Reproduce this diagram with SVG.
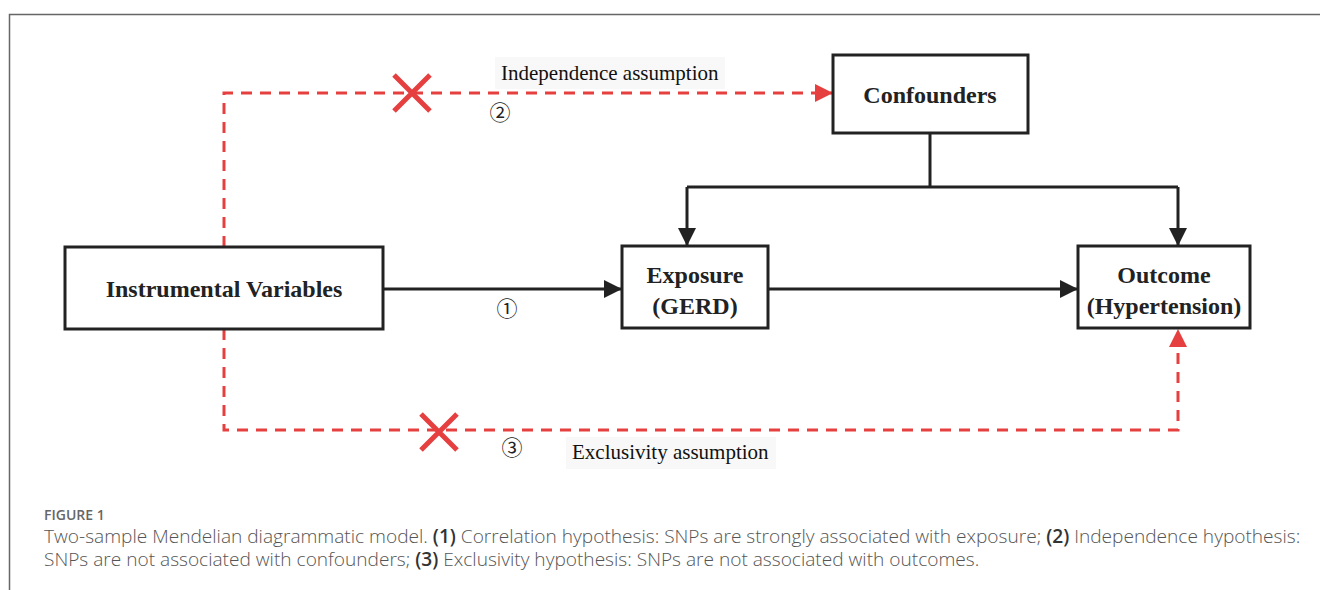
<svg xmlns="http://www.w3.org/2000/svg" width="1320" height="590" viewBox="0 0 1320 590">
<style>
.box{fill:#fff;stroke:#222;stroke-width:3}
.lbl{font-family:"Liberation Serif","Times New Roman",serif;font-weight:bold;font-size:24px;fill:#222;text-anchor:middle}
.ann{font-family:"Liberation Serif","Times New Roman",serif;font-size:21px;fill:#111}
.num{font-family:"Noto Sans CJK SC","DejaVu Sans",sans-serif;font-size:21px;fill:#222;text-anchor:middle}
.blk{fill:none;stroke:#222;stroke-width:3}
.red{fill:none;stroke:#e5403f;stroke-width:3;stroke-dasharray:11 8}
.x{stroke:#e5403f;stroke-width:5}
.cap{font-family:"Open Sans","Liberation Sans",sans-serif;font-size:19.1px;font-weight:300;fill:#555}
.capb{font-weight:600;fill:#333}
</style>
<defs>
<marker id="ab" viewBox="0 0 10 10" refX="10" refY="5" markerWidth="7" markerHeight="6" markerUnits="strokeWidth" orient="auto"><path d="M0,0 L10,5 L0,10 Z" fill="#222"/></marker>
<marker id="ar" viewBox="0 0 10 10" refX="10" refY="5" markerWidth="7" markerHeight="6" markerUnits="strokeWidth" orient="auto"><path d="M0,0 L10,5 L0,10 Z" fill="#e5403f"/></marker>
</defs>
<rect width="1320" height="590" fill="#fff"/>
<path d="M9.5,590 V14.5 H1320" fill="none" stroke="#666" stroke-width="1.5"/>

<g id="connectors">
<path class="blk" d="M383,289 H622" marker-end="url(#ab)"/>
<path class="blk" d="M768,289 H1078" marker-end="url(#ab)"/>
<path class="blk" d="M930,133 V187"/>
<path class="blk" d="M687,187 H1178"/>
<path class="blk" d="M687,187 V246" marker-end="url(#ab)"/>
<path class="blk" d="M1178,187 V246" marker-end="url(#ab)"/>
<path class="red" d="M224,247 V93 H833" marker-end="url(#ar)"/>
<path class="red" d="M224,329 V430 H1178 V329" marker-end="url(#ar)"/>
<path class="x" d="M394,75 L430,111 M430,75 L394,111"/>
<path class="x" d="M421,414 L457,450 M457,414 L421,450"/>
</g>

<g id="label-independence">
<rect x="495" y="57" width="230" height="32" fill="#f8f8f8"/>
<text class="ann" x="501" y="80">Independence assumption</text>
</g>
<g id="label-exclusivity">
<rect x="566" y="437" width="210" height="32" fill="#f8f8f8"/>
<text class="ann" x="572" y="459">Exclusivity assumption</text>
</g>
<text class="num" x="500" y="120">②</text>
<text class="num" x="507" y="316">①</text>
<text class="num" x="512" y="455">③</text>

<g id="node-iv">
<rect class="box" x="65" y="247" width="318" height="82"/>
<text class="lbl" x="224" y="297">Instrumental Variables</text>
</g>
<g id="node-confounders">
<rect class="box" x="833" y="55" width="195" height="78"/>
<text class="lbl" x="930" y="103">Confounders</text>
</g>
<g id="node-exposure">
<rect class="box" x="622" y="246" width="146" height="82"/>
<text class="lbl" x="695" y="283">Exposure</text>
<text class="lbl" x="695" y="314">(GERD)</text>
</g>
<g id="node-outcome">
<rect class="box" x="1078" y="246" width="172" height="82"/>
<text class="lbl" x="1164" y="283">Outcome</text>
<text class="lbl" x="1164" y="314">(Hypertension)</text>
</g>

<g id="caption">
<text class="cap" x="44" y="520" style="font-size:14px;font-weight:600;fill:#666">FIGURE 1</text>
<text class="cap" x="44" y="543">Two-sample Mendelian diagrammatic model. <tspan class="capb">(1)</tspan> Correlation hypothesis: SNPs are strongly associated with exposure; <tspan class="capb">(2)</tspan> Independence hypothesis:</text>
<text class="cap" x="44" y="566">SNPs are not associated with confounders; <tspan class="capb">(3)</tspan> Exclusivity hypothesis: SNPs are not associated with outcomes.</text>
</g>
</svg>
